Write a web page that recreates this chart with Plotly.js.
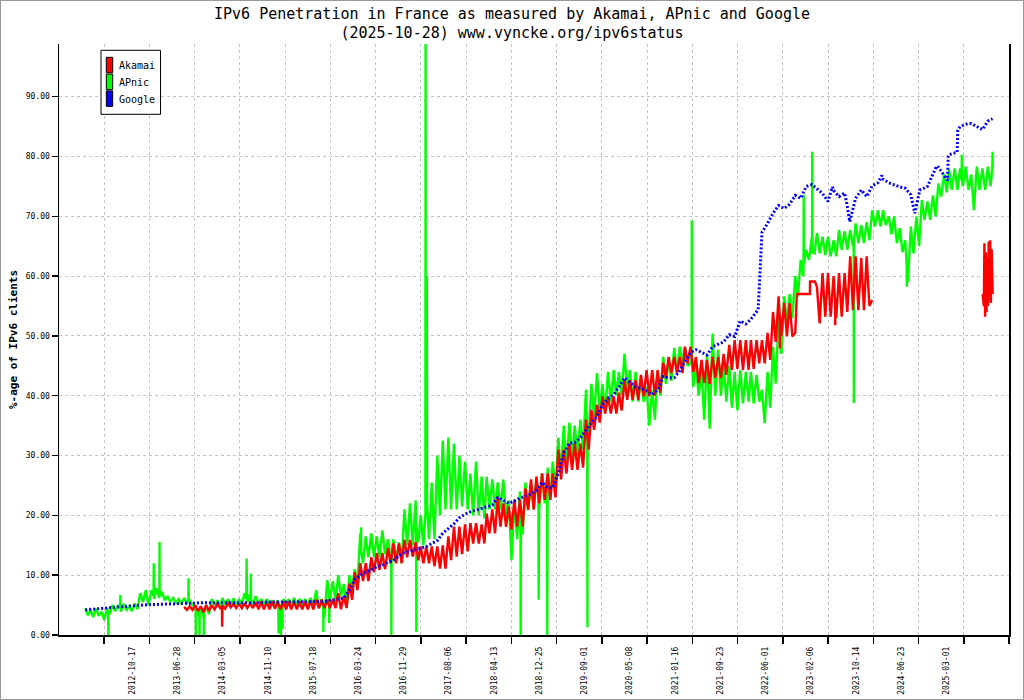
<!DOCTYPE html>
<html><head><meta charset="utf-8">
<script src="https://cdn.plot.ly/plotly-3.0.1.min.js"></script>
<style>
html,body{margin:0;padding:0;background:#fff;}
#wrap{position:relative;width:1024px;height:700px;overflow:hidden;}
#chart{position:absolute;left:0;top:0;width:1024px;height:700px;}
#frame{position:absolute;left:0;top:0;width:1022px;height:698px;border:1px solid #999;pointer-events:none;}
</style></head><body>
<div id="wrap"><div id="chart"></div><div id="frame"></div></div>
<script>
// ---------------- DATA ----------------
const seriesNames = ['Akamai', 'APnic', 'Google'];
const seriesColors = ['#ff0000', '#00ff00', '#0000ff'];
const tickLabels = ['2012-10-17','2013-06-28','2014-03-05','2014-11-10','2015-07-18','2016-03-24',
  '2016-11-29','2017-08-06','2018-04-13','2018-12-25','2019-09-01','2020-05-08','2021-01-16',
  '2021-09-23','2022-06-01','2023-02-06','2023-10-14','2024-06-23','2025-03-01'];

// Google: monthly values (1st of month) starting 2012-02
const googleStart = '2012-02';
const googleValues = [
  4.2, 4.3, 4.4, 4.5, 4.6, 4.6, 4.7, 4.7, 4.8, 4.9, 5.0,                 // 2012
  5.0, 5.1, 5.1, 5.2, 5.2, 5.2, 5.3, 5.3, 5.3, 5.4, 5.4, 5.4,            // 2013
  5.4, 5.4, 5.3, 5.3, 5.3, 5.3, 5.4, 5.4, 5.3, 5.4, 5.5, 5.5,            // 2014
  5.5, 5.5, 5.5, 5.6, 5.6, 5.6, 5.6, 5.6, 5.6, 5.7, 5.8, 6.0,            // 2015
  6.2, 7.5, 9.3, 10.0, 10.5, 11.0, 11.4, 11.7, 12.1, 12.5, 13.2, 13.8,   // 2016
  14.0, 14.2, 14.5, 14.8, 15.3, 15.8, 17.0, 17.8, 18.6, 19.6, 20.2, 20.6,// 2017
  20.9, 21.2, 21.5, 21.7, 23.0, 22.5, 22.0, 22.4, 22.9, 23.2, 23.6, 24.2,// 2018
  25.5, 24.7, 24.6, 27.0, 30.5, 32.1, 32.2, 33.0, 34.3, 35.5, 36.5, 38.5,// 2019
  39.5, 40.2, 41.5, 43.0, 42.2, 41.5, 41.2, 40.8, 40.2, 41.0, 43.2, 43.0,// 2020
  43.0, 44.2, 45.7, 47.2, 47.7, 47.2, 46.8, 48.2, 48.6, 49.0, 50.2, 49.9,// 2021
  52.5, 52.0, 52.8, 54.0, 67.3, 68.8, 70.5, 71.8, 71.3, 72.0, 73.5, 73.0,// 2022
  75.0, 75.3, 74.6, 73.8, 72.5, 74.3, 73.3, 73.9, 69.5, 73.0, 74.4, 73.3,// 2023
  75.1, 75.6, 76.2, 75.6, 75.2, 74.9, 74.7, 73.6, 71.6, 74.5, 75.0, 77.0,// 2024
  78.2, 76.8, 80.3, 80.6, 85.0, 85.4, 85.5, 85.0, 84.5, 85.9             // 2025
];
const googleExtraDates  = ['2022-04-10','2023-05-26','2023-08-14','2023-08-29','2024-02-23',
  '2024-08-23','2024-09-20','2024-12-22','2025-02-20','2025-02-24','2025-04-14','2025-04-18','2025-10-27'];
const googleExtraValues = [54.4, 74.9, 72.0, 69.1, 76.8, 70.5, 74.4, 78.4, 76.0, 80.0, 80.7, 84.4, 86.3];

// APnic: per month, top (1st) and bottom (16th) of the daily noise band, from 2012-02
const apnicStart = '2012-02';
const apnicHigh = [
  4.5, 4.2, 4.4, 3.9, 4.5, 5.0, 5.0, 5.2, 4.8, 5.3, 7.0,                 // 2012
  7.5, 7.5, 7.8, 7.2, 6.5, 6.2, 6.0, 6.2, 5.8, 4.8, 4.5, 4.8,            // 2013
  6.0, 5.8, 6.2, 6.0, 6.1, 6.0, 7.0, 6.8, 6.5, 6.0, 6.0, 5.8,            // 2014
  5.8, 6.0, 6.0, 6.2, 6.0, 6.0, 6.2, 7.5, 6.0, 9.2, 9.0, 10.0,           // 2015
  8.5, 10.0, 11.0, 17.0, 16.5, 17.0, 16.5, 17.5, 16.0, 16.0, 15.5, 21.0, // 2016
  22.0, 22.5, 20.0, 25.0, 25.5, 30.0, 32.5, 33.0, 32.0, 30.0, 29.0, 27.0,// 2017
  29.0, 26.5, 26.5, 26.0, 25.5, 26.0, 22.5, 22.5, 24.0, 25.5, 25.0, 26.0,// 2018
  27.0, 28.0, 29.0, 33.0, 35.0, 35.5, 35.0, 36.0, 41.0, 42.0, 43.8, 42.0,// 2019
  44.0, 44.3, 44.0, 47.0, 44.3, 44.0, 43.0, 41.5, 41.0, 44.0, 46.5, 46.0,// 2020
  48.0, 48.2, 48.0, 45.4, 45.4, 44.0, 47.0, 50.4, 47.7, 45.4, 45.0, 44.0,// 2021
  44.3, 44.0, 44.0, 43.5, 41.0, 44.0, 48.2, 53.0, 56.6, 57.0, 60.0, 62.7,// 2022
  64.4, 66.5, 67.2, 66.6, 66.6, 66.0, 67.7, 67.5, 67.7, 68.8, 68.5, 69.0,// 2023
  71.0, 71.0, 71.0, 70.0, 70.0, 68.0, 66.0, 68.3, 70.0, 72.7, 72.5, 73.5,// 2024
  75.5, 77.0, 77.8, 78.0, 78.0, 78.3, 77.0, 78.3, 78.0, 78.3             // 2025
];
const apnicLow = [
  3.3, 3.0, 3.2, 2.5, 3.5, 4.0, 3.9, 4.2, 4.0, 4.3, 5.5,                 // 2012
  5.0, 6.0, 6.2, 5.8, 5.5, 5.3, 5.2, 5.3, 5.0, 3.2, 3.0, 3.5,            // 2013
  5.0, 4.8, 5.0, 5.0, 5.0, 5.0, 5.5, 5.2, 5.3, 5.0, 5.0, 4.8,            // 2014
  4.5, 5.0, 5.0, 5.0, 5.0, 5.0, 4.8, 4.5, 3.0, 6.0, 5.5, 6.5,            // 2015
  5.0, 7.5, 8.5, 12.0, 13.0, 13.0, 13.0, 13.5, 12.5, 12.5, 12.0, 15.0,   // 2016
  15.0, 15.5, 15.0, 16.0, 16.0, 20.0, 21.0, 21.0, 21.0, 21.5, 21.0, 20.0,// 2017
  20.0, 19.5, 21.0, 21.0, 21.0, 20.0, 12.5, 16.0, 17.0, 21.0, 21.0, 21.0,// 2018
  22.0, 23.0, 24.0, 27.0, 28.0, 29.5, 30.0, 31.0, 33.0, 36.5, 37.0, 37.5,// 2019
  39.0, 40.0, 40.0, 41.0, 39.0, 39.0, 39.0, 35.0, 36.0, 40.0, 42.0, 42.5,// 2020
  44.0, 45.4, 45.0, 41.5, 40.0, 36.0, 34.5, 40.0, 40.0, 39.0, 38.0, 37.6,// 2021
  38.7, 39.0, 38.7, 39.0, 35.4, 38.0, 42.0, 47.0, 52.1, 53.0, 56.6, 60.0,// 2022
  62.7, 63.8, 63.8, 63.5, 63.3, 63.3, 64.4, 64.4, 65.0, 65.5, 65.5, 66.0,// 2023
  68.3, 68.3, 68.5, 67.0, 65.5, 64.0, 59.0, 63.8, 65.0, 69.4, 69.4, 70.0,// 2024
  73.3, 74.0, 74.4, 74.4, 75.0, 74.4, 71.0, 74.4, 74.4, 75.0             // 2025
];
// single-day spikes: date, spike value, surrounding level
const apnicSpikeDates = ['2012-06-08','2012-08-13','2013-02-14','2013-03-18','2013-08-25','2013-10-05',
  '2013-10-25','2013-11-18','2014-07-12','2014-08-05','2015-01-05','2015-01-18','2015-01-27','2015-09-10',
  '2015-10-12','2016-04-05','2016-09-20','2017-02-05','2017-03-28','2017-04-04','2018-09-05','2018-12-13',
  '2019-01-30','2019-09-09','2021-04-08','2022-12-18','2023-02-03','2023-09-21','2024-07-10','2025-05-10',
  '2025-10-27'];
const apnicSpikeValues = [0, 6.7, 12.0, 15.6, 9.5, 0, 0, 0, 12.8, 10.3, 0.3, 0, 1.0, 0.5,
  2.0, 18.0, 0, 0.5, 98.8, 60.0, 0, 5.9, 0, 1.3, 69.3, 73.6, 80.8, 38.8, 58.2, 80.3, 80.8];
const apnicSpikeBase = [3.8, 4.5, 6.5, 6.5, 5.6, 4.0, 4.0, 3.8, 6.0, 5.8, 5.0, 5.0, 5.2, 4.5,
  7.0, 14.0, 14.0, 18.0, 20.0, 22.0, 17.0, 24.0, 26.0, 33.0, 46.0, 62.0, 64.0, 66.0, 62.0, 76.0, 78.0];

// Akamai: per month, top (1st) and bottom (16th) of the noise band, 2013-08 .. 2023-12
const akamaiStart = '2013-08';
const akamaiHigh = [
  4.7, 4.8, 5.0, 4.8, 5.0,                                               // 2013
  5.0, 5.2, 5.0, 5.3, 5.2, 5.2, 5.3, 5.3, 5.5, 5.6, 5.5, 5.6,            // 2014
  5.6, 5.6, 5.6, 5.6, 5.6, 5.6, 5.8, 5.9, 5.9, 5.9, 6.0, 7.0,            // 2015
  6.5, 8.6, 10.5, 12.0, 12.0, 13.0, 13.7, 13.7, 14.5, 15.3, 15.3, 15.9,  // 2016
  15.9, 15.5, 14.8, 14.8, 14.8, 14.8, 15.0, 16.5, 18.1, 18.1, 18.5, 18.7,// 2017
  18.7, 18.5, 20.3, 21.0, 23.0, 22.0, 21.5, 22.6, 22.6, 24.5, 26.0, 26.5,// 2018
  27.0, 27.0, 27.0, 31.0, 31.0, 32.0, 32.0, 32.0, 36.0, 37.6, 38.5, 39.9,// 2019
  39.9, 39.9, 40.5, 42.6, 42.6, 42.6, 43.5, 44.3, 44.3, 44.3, 45.5, 46.5,// 2020
  46.5, 46.5, 48.2, 48.2, 46.5, 46.0, 46.0, 46.5, 46.5, 47.0, 48.5, 49.3,// 2021
  49.3, 49.3, 49.3, 49.3, 49.3, 50.5, 54.0, 56.6, 55.5, 55.5, 50.5, 57.0,// 2022
  57.0, 59.1, 58.2, 60.5, 60.5, 60.0, 60.5, 60.5, 63.3, 63.3, 63.0, 63.3 // 2023
];
const akamaiLow = [
  4.2, 4.2, 4.0, 3.8, 4.0,                                               // 2013
  4.3, 4.5, 4.4, 4.6, 4.5, 4.5, 4.5, 4.5, 4.3, 4.3, 4.3, 4.4,            // 2014
  4.3, 4.3, 4.3, 4.3, 4.3, 4.3, 4.3, 4.5, 4.5, 4.5, 4.5, 4.3,            // 2015
  4.5, 5.9, 7.5, 9.0, 9.0, 10.5, 10.9, 11.0, 12.0, 12.0, 12.0, 13.0,     // 2016
  13.1, 12.5, 12.0, 12.0, 11.5, 11.1, 11.1, 12.5, 13.1, 13.5, 14.0, 15.3,// 2017
  15.3, 15.3, 17.0, 17.0, 18.1, 18.1, 17.6, 18.1, 18.1, 20.9, 21.0, 22.0,// 2018
  22.6, 22.6, 23.0, 26.0, 27.0, 27.6, 27.6, 28.0, 31.0, 34.3, 35.5, 37.0,// 2019
  37.0, 37.0, 37.5, 39.3, 39.3, 39.3, 39.9, 39.9, 40.0, 40.5, 43.0, 43.8,// 2020
  43.8, 43.8, 45.4, 44.0, 42.1, 42.1, 42.0, 43.0, 43.0, 43.5, 44.3, 44.5,// 2021
  44.3, 44.3, 44.5, 45.4, 45.4, 46.0, 49.0, 50.0, 49.9, 49.9, 57.0, 57.0,// 2022
  57.0, 59.1, 52.1, 53.2, 53.2, 53.0, 53.2, 54.0, 54.3, 54.3, 54.3, 55.0 // 2023
];
const akamaiExtraDates  = ['2022-11-10','2023-01-21','2023-01-22','2023-02-18','2024-01-01'];
const akamaiExtraValues = [57.0, 57.0, 59.1, 59.1, 56.0];
const akamaiSpikeDates  = ['2014-02-27','2022-08-08','2023-06-10'];
const akamaiSpikeValues = [1.4, 47.9, 51.8];
const akamaiSpikeBase   = [4.8, 53.5, 56.0];
// Akamai data after the gap
const akamaiRecentDates = ['2025-09-02','2025-09-05','2025-09-09','2025-09-12','2025-09-16','2025-09-20',
  '2025-09-24','2025-09-28','2025-10-02','2025-10-06','2025-10-10','2025-10-14','2025-10-18','2025-10-22',
  '2025-10-26','2025-10-28'];
const akamaiRecentValues = [57.0, 55.5, 55.0, 65.5, 53.2, 64.0, 54.0, 63.0, 55.0, 65.8, 56.0, 66.0,
  55.5, 64.5, 57.5, 57.0];

// ---------------- helpers ----------------
function monthList(start, n) {
  let [y, m] = start.split('-').map(Number);
  const out = [];
  for (let i = 0; i < n; i++) {
    out.push(y + '-' + String(m).padStart(2, '0'));
    m++; if (m > 12) { m = 1; y++; }
  }
  return out;
}
function shiftDay(d, k) {
  const t = new Date(d + 'T00:00:00Z');
  t.setUTCDate(t.getUTCDate() + k);
  return t.toISOString().slice(0, 10);
}
function finish(pts, exD, exV, spD, spV, spB) {
  (exD || []).forEach((d, i) => pts.push([d, exV[i]]));
  (spD || []).forEach((d, i) => {
    pts.push([shiftDay(d, -1), spB[i]]);
    pts.push([d, spV[i]]);
    pts.push([shiftDay(d, 1), spB[i]]);
  });
  pts.sort((a, b) => a[0] < b[0] ? -1 : a[0] > b[0] ? 1 : 0);
  return { x: pts.map(p => p[0]), y: pts.map(p => p[1]) };
}
function buildMonthly(start, values, exD, exV) {
  const pts = monthList(start, values.length).map((m, i) => [m + '-01', values[i]]);
  return finish(pts, exD, exV);
}
function buildBand(start, hi, lo, exD, exV, spD, spV, spB) {
  const pts = [];
  monthList(start, hi.length).forEach((m, i) => { pts.push([m + '-01', hi[i]]); pts.push([m + '-16', lo[i]]); });
  return finish(pts, exD, exV, spD, spV, spB);
}

const g = buildMonthly(googleStart, googleValues, googleExtraDates, googleExtraValues);
const ap = buildBand(apnicStart, apnicHigh, apnicLow, null, null, apnicSpikeDates, apnicSpikeValues, apnicSpikeBase);
const ak = buildBand(akamaiStart, akamaiHigh, akamaiLow, akamaiExtraDates, akamaiExtraValues, akamaiSpikeDates, akamaiSpikeValues, akamaiSpikeBase);
ak.x.push('2024-06-01'); ak.y.push(null);
akamaiRecentDates.forEach((d, i) => { ak.x.push(d); ak.y.push(akamaiRecentValues[i]); });

// ---------------- layout geometry ----------------
const W = 1024, H = 700, ML = 59, MR = 15, MT = 44, MB = 65;
const PW = W - ML - MR, PH = H - MT - MB;
const px = v => (v - ML) / PW;            // pixel x -> paper x
const py = v => (H - MB - v) / PH;        // pixel y -> paper y

// axis: 21 equal tick intervals, labels sit to the right of the ticks
const xStart = Date.UTC(2011, 8, 9), xEnd = Date.UTC(2026, 0, 26);
const fmt = ms => new Date(ms).toISOString().slice(0, 19).replace('T', ' ');
const tickvals = [], ticktext = [];
for (let k = 1; k <= 21; k++) {
  tickvals.push(fmt(xStart + k * (xEnd - xStart) / 21));
  ticktext.push(tickLabels[k - 1] || '');
}

const mono = '"DejaVu Sans Mono", "Liberation Mono", monospace';
const traces = [
  { type: 'scatter', mode: 'lines', name: seriesNames[1], x: ap.x, y: ap.y, line: { color: seriesColors[1], width: 2.4 } },
  { type: 'scatter', mode: 'lines', name: seriesNames[0], x: ak.x, y: ak.y, line: { color: seriesColors[0], width: 2.4 }, connectgaps: false },
  { type: 'scatter', mode: 'lines', name: seriesNames[2], x: g.x, y: g.y, line: { color: seriesColors[2], width: 3, dash: '2px,2px' } }
];

// hand-drawn legend box (boxed colour bars like the reference)
const shapes = [{ type: 'rect', xref: 'paper', yref: 'paper', x0: px(101), x1: px(160.5), y0: py(114.3), y1: py(50.3),
  fillcolor: '#fff', line: { color: '#000', width: 1 } }];
const annotations = [];
seriesNames.forEach((name, i) => {
  const top = 57.3 + i * 16.8;
  shapes.push({ type: 'rect', xref: 'paper', yref: 'paper', x0: px(106.3), x1: px(112.7), y0: py(top + 15.5), y1: py(top),
    fillcolor: seriesColors[i], line: { color: '#000', width: 1 } });
  annotations.push({ xref: 'paper', yref: 'paper', x: px(116.5), y: py(top + 8.5), xanchor: 'left', yanchor: 'middle',
    text: name, showarrow: false, font: { size: 10, family: mono, color: '#000' } });
});

const layout = {
  width: W, height: H,
  margin: { l: ML, r: MR, t: MT, b: MB, pad: 0 },
  paper_bgcolor: '#fff', plot_bgcolor: '#fff',
  font: { family: mono, color: '#000' },
  showlegend: false,
  title: {
    text: 'IPv6 Penetration in France as measured by Akamai, APnic and Google<br>(2025-10-28) www.vyncke.org/ipv6status',
    font: { size: 15, family: mono, color: '#000' },
    x: 0.5, xref: 'container', xanchor: 'center', y: 0.973, yref: 'container', yanchor: 'top'
  },
  xaxis: {
    type: 'date', range: [fmt(xStart), fmt(xEnd)], tickmode: 'array', tickvals: tickvals, ticktext: ticktext,
    tickangle: -90, ticklabelshift: 28, ticks: 'outside', ticklen: 7, tickcolor: '#000', tickwidth: 1.5,
    showline: true, linecolor: '#000', linewidth: 1.5, showgrid: true, gridcolor: '#c4c4c4', griddash: '3px,3px',
    gridwidth: 1, tickfont: { size: 8, family: mono }, zeroline: false, fixedrange: true
  },
  yaxis: {
    range: [0, 98.8], tick0: 0, dtick: 10, tickformat: '.2f', ticks: 'outside', ticklen: 6, tickcolor: '#000', tickwidth: 1.5,
    showline: true, mirror: true, linecolor: '#000', linewidth: 1.5, showgrid: true, gridcolor: '#c4c4c4',
    griddash: '3px,3px', gridwidth: 1, tickfont: { size: 8, family: mono }, zeroline: false, fixedrange: true,
    title: { text: '%-age of IPv6 clients', font: { size: 11, family: mono, weight: 'bold' }, standoff: 6 }
  },
  shapes: shapes,
  annotations: annotations
};

Plotly.newPlot('chart', traces, layout, { displayModeBar: false, staticPlot: true });
</script>
</body></html>
